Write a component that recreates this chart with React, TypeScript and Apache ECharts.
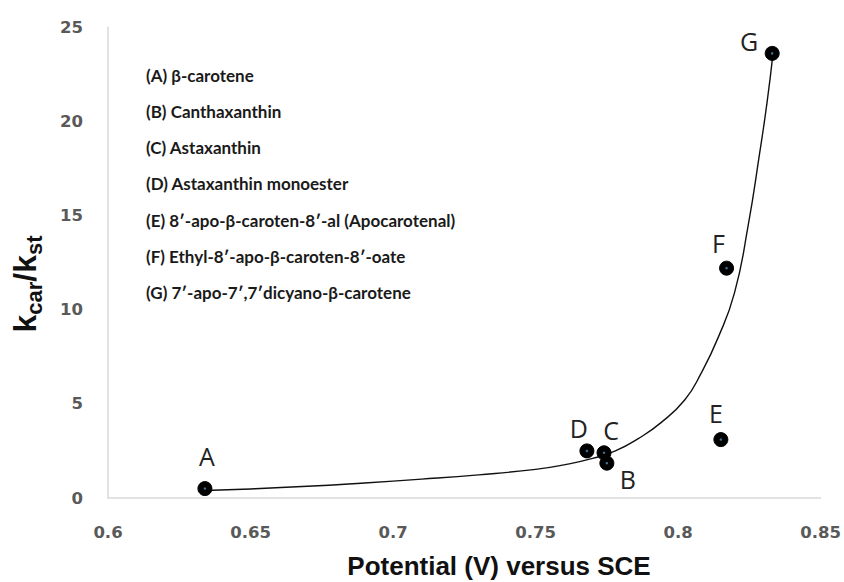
import React, { useEffect, useRef } from "react";
import * as echarts from "echarts";

const pointNames = ["A", "B", "C", "D", "E", "F", "G"];
const pointX = [0.634, 0.775, 0.774, 0.768, 0.815, 0.817, 0.833];
const pointY = [0.5, 1.85, 2.4, 2.5, 3.1, 12.2, 23.6];
// label offsets [dx, dy] in px for each point label
const labelOffsets: number[][] = [
  [2, -33],
  [21, 16],
  [7, -23],
  [-8, -23],
  [-5, -27],
  [-8, -25],
  [-23, -12],
];

const trendX = [0.634, 0.65, 0.67, 0.69, 0.71, 0.73, 0.75, 0.76, 0.77, 0.778, 0.786, 0.794, 0.8023, 0.808, 0.814, 0.8198, 0.8245, 0.8286, 0.8312, 0.8333];
const trendY = [0.4, 0.48, 0.62, 0.8, 1.0, 1.23, 1.52, 1.76, 2.1, 2.5, 3.15, 4.0, 5.2, 6.6, 8.5, 10.9, 14.4, 18.3, 21.0, 23.6];

const legendLines = [
  "(A) β-carotene",
  "(B) Canthaxanthin",
  "(C) Astaxanthin",
  "(D) Astaxanthin monoester",
  "(E) 8\u2032-apo-β-caroten-8\u2032-al (Apocarotenal)",
  "(F) Ethyl-8\u2032-apo-β-caroten-8\u2032-oate",
  "(G) 7\u2032-apo-7\u2032,7\u2032dicyano-β-carotene",
];

const xTitle = "Potential (V) versus SCE";

export default function App() {
  const ref = useRef<HTMLDivElement>(null);
  useEffect(() => {
    if (!ref.current) return;
    const chart = echarts.init(ref.current, null, { renderer: "svg" });
    const tickFont = {
      color: "#595959",
      fontFamily: "DejaVu Sans",
      fontWeight: "bold" as const,
      fontSize: 16.5,
    };
    chart.setOption({
      animation: false,
      backgroundColor: "#ffffff",
      grid: { left: 108, right: 23, top: 27, bottom: 84, containLabel: false },
      xAxis: {
        type: "value",
        min: 0.6,
        max: 0.85,
        interval: 0.05,
        axisLine: { show: true, lineStyle: { color: "#d9d9d9", width: 1.5 } },
        axisTick: { show: false },
        splitLine: { show: false },
        axisLabel: { ...tickFont, margin: 26, formatter: (v: number) => String(+v.toFixed(2)) },
      },
      yAxis: {
        type: "value",
        min: 0,
        max: 25,
        interval: 5,
        axisLine: { show: true, lineStyle: { color: "#d9d9d9", width: 1.5 } },
        axisTick: { show: false },
        splitLine: { show: false },
        axisLabel: { ...tickFont, margin: 25 },
      },
      graphic: [
        ...legendLines.map((t, i) => ({
          type: "text",
          x: 146,
          y: 75 + i * 36.3,
          style: { text: t, fill: "#1a1a1a", font: "bold 17px Lato", textVerticalAlign: "middle" },
        })),
        {
          type: "text",
          x: 499,
          y: 566,
          style: {
            text: xTitle,
            fill: "#111",
            font: "bold 26px 'Liberation Sans'",
            textAlign: "center",
            textVerticalAlign: "middle",
          },
        },
        {
          type: "text",
          x: 25,
          y: 284,
          rotation: Math.PI / 2,
          style: {
            text: "{k|k}{s|car}{k|/k}{s|st}",
            textAlign: "center",
            textVerticalAlign: "middle",
            rich: {
              k: { fontFamily: "Liberation Sans", fontWeight: "bold", fontSize: 32, fill: "#111", lineHeight: 40, verticalAlign: "middle" },
              s: { fontFamily: "Liberation Sans", fontWeight: "bold", fontSize: 22, fill: "#111", lineHeight: 22, verticalAlign: "bottom" },
            },
          },
        },
      ],
      series: [
        {
          type: "line",
          data: trendX.map((x, i) => [x, trendY[i]]),
          smooth: 0.5,
          showSymbol: false,
          lineStyle: { color: "#111", width: 1.4 },
          z: 1,
        },
        {
          type: "scatter",
          data: pointX.map((x, i) => ({
            value: [x, pointY[i]],
            label: {
              show: true,
              formatter: pointNames[i],
              position: "inside",
              offset: labelOffsets[i],
              color: "#222",
              fontFamily: "Open Sans",
              fontSize: 25,
            },
          })),
          symbol: "circle",
          symbolSize: 14,
          itemStyle: { color: "#000", borderColor: "#000", borderWidth: 1, opacity: 1 },
          z: 3,
        },
        {
          type: "scatter",
          data: pointX.map((x, i) => [x, pointY[i]]),
          symbol: "circle",
          symbolSize: 2.5,
          itemStyle: { color: "#3b6f96", opacity: 1 },
          silent: true,
          z: 4,
        },
      ],
    });
    return () => chart.dispose();
  }, []);
  return <div ref={ref} style={{ position: "fixed", left: 0, top: 0, width: 844, height: 582 }} />;
}
